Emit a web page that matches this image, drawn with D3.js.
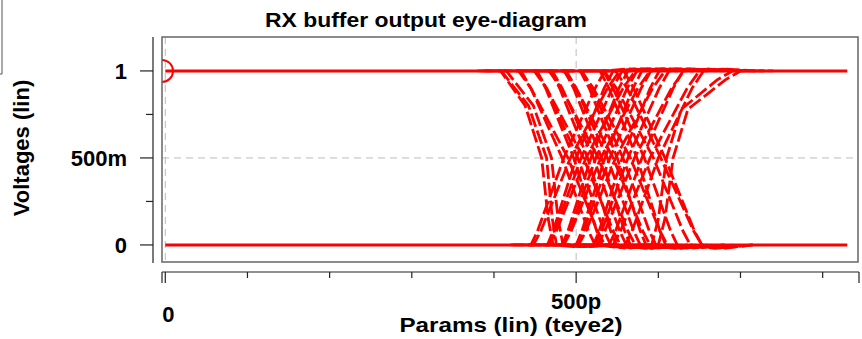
<!DOCTYPE html>
<html><head><meta charset="utf-8">
<script src="https://cdn.jsdelivr.net/npm/d3@7"></script>
<style>body{margin:0;background:#fff}svg{display:block;font-family:"Liberation Sans",Arial,Helvetica,sans-serif;font-weight:bold}</style>
</head><body>
<svg id="c" width="862" height="339"></svg>
<script>
// ---- data ----
const chartTitle = "RX buffer output eye-diagram";
const xTitle = "Params (lin) (teye2)";
const yTitle = "Voltages (lin)";
const yMajorTicks = [0, 0.5, 1];
const yTickLabels = ["0", "500m", "1"];
const yMinorTicks = [0.25, 0.75];
const xMajorTicks = [0, 500];
const xTickLabels = ["0", "500p"];
const xMinorTicks = [100, 200, 300, 400, 600, 700, 800];
const xDomain = [-4, 843];       // ps
const yDomain = [-0.098, 1.195]; // V
const baseHigh = [[0, 1], [830, 1]];
const baseLow = [[0, 0], [830, 0]];
const markerPoint = [-4, 1];

// falling transitions (time ps, volts)
const fallingTraces = [
  [[380,1],[408,1],[438,0.8],[458,0.5],[466,0.15],[472,0],[500,-0.01],[540,0]],
  [[385,1],[409,1],[442,0.8],[464,0.5],[471,0.15],[476,0],[505,-0.01],[545,0]],
  [[390,1],[415,1],[448,0.8],[470,0.5],[478,0.15],[484,0],[512,-0.01],[550,0]],
  [[408,1],[433,1],[445,0.9],[483,0.5],[515,0.08],[523,0],[553,-0.015],[593,0]],
  [[405,1],[430,1],[445,0.9],[490,0.5],[526,0.08],[535,0],[565,-0.015],[605,0]],
  [[427,1],[452,1],[463,0.9],[497,0.5],[525,0.08],[532,0],[562,-0.02],[602,0]],
  [[427,1],[452,1],[464,0.9],[502,0.5],[534,0.08],[542,0],[572,-0.015],[612,0]],
  [[424,1],[449,1],[464,0.9],[509,0.5],[545,0.08],[554,0],[584,-0.02],[624,0]],
  [[444,1],[469,1],[480,0.9],[514,0.5],[542,0.08],[549,0],[579,-0.015],[619,0]],
  [[446,1],[471,1],[483,0.9],[521,0.5],[553,0.08],[561,0],[591,-0.02],[631,0]],
  [[442,1],[467,1],[482,0.9],[527,0.5],[563,0.08],[572,0],[602,-0.015],[642,0]],
  [[461,1],[486,1],[497,0.9],[531,0.5],[559,0.08],[566,0],[596,-0.02],[636,0]],
  [[463,1],[488,1],[500,0.9],[538,0.5],[570,0.08],[578,0],[608,-0.015],[648,0]],
  [[460,1],[485,1],[500,0.9],[545,0.5],[581,0.08],[590,0],[620,-0.02],[660,0]],
  [[480,1],[505,1],[516,0.9],[550,0.5],[578,0.08],[585,0],[615,-0.015],[655,0]],
  [[482,1],[507,1],[519,0.9],[557,0.5],[589,0.08],[597,0],[627,-0.02],[667,0]],
  [[481,1],[506,1],[521,0.9],[566,0.5],[602,0.08],[611,0],[641,-0.015],[681,0]],
  [[504,1],[529,1],[540,0.9],[574,0.5],[602,0.08],[609,0],[639,-0.02],[679,0]],
  [[508,1],[533,1],[545,0.9],[583,0.5],[615,0.08],[623,0],[653,-0.015],[693,0]],
  [[509,1],[534,1],[549,0.9],[594,0.5],[630,0.08],[639,0],[669,-0.02],[705,0]],
  [[523,1],[548,1],[562,0.9],[603,0.5],[643,0.08],[653,0],[680,-0.015],[715,0]],
  [[533,1],[558,1],[570,0.9],[608,0.5],[644,0.08],[653,0],[680,-0.02],[715,0]]
];
// rising transitions
const risingTraces = [
  [[420,0],[445,0],[453,0.08],[485,0.5],[523,0.9],[535,1],[565,1.012],[605,1]],
  [[423,0],[448,0],[457,0.08],[493,0.5],[538,0.9],[553,1],[583,1.012],[623,1]],
  [[440,0],[465,0],[472,0.08],[500,0.5],[534,0.9],[545,1],[575,1.012],[615,1]],
  [[441,0],[466,0],[474,0.08],[506,0.5],[544,0.9],[556,1],[586,1.012],[626,1]],
  [[442,0],[467,0],[476,0.08],[512,0.5],[557,0.9],[572,1],[602,1.012],[642,1]],
  [[458,0],[483,0],[490,0.08],[518,0.5],[552,0.9],[563,1],[593,1.012],[633,1]],
  [[459,0],[484,0],[492,0.08],[524,0.5],[562,0.9],[574,1],[604,1.012],[644,1]],
  [[460,0],[485,0],[494,0.08],[530,0.5],[575,0.9],[590,1],[620,1.012],[660,1]],
  [[475,0],[500,0],[507,0.08],[535,0.5],[569,0.9],[580,1],[610,1.012],[650,1]],
  [[476,0],[501,0],[509,0.08],[541,0.5],[579,0.9],[591,1],[621,1.012],[661,1]],
  [[478,0],[503,0],[512,0.08],[548,0.5],[593,0.9],[608,1],[638,1.012],[678,1]],
  [[496,0],[521,0],[528,0.08],[556,0.5],[590,0.9],[601,1],[631,1.012],[671,1]],
  [[498,0],[523,0],[531,0.08],[563,0.5],[601,0.9],[613,1],[643,1.01],[683,1]],
  [[501,0],[526,0],[535,0.08],[571,0.5],[616,0.9],[631,1],[661,1.01],[700,1]],
  [[515,0],[540,0],[548,0.08],[580,0.5],[618,0.9],[630,1],[660,1.01],[700,1]],
  [[520,0],[545,0],[554,0.08],[590,0.5],[635,0.9],[650,1],[678,1.01],[712,1]],
  [[535,0],[560,0],[568,0.08],[600,0.5],[641,0.9],[655,1],[683,1.01],[718,1]],
  [[565,0],[592,0],[600,0.15],[610,0.5],[628,0.78],[672,0.95],[690,1],[730,1]],
  [[575,0],[600,0],[608,0.15],[618,0.5],[636,0.78],[682,0.95],[700,1],[740,1]]
];

// ---- chart ----
const svg = d3.select("#c");
const plot = {left: 162, top: 37, right: 858, bottom: 262};
const x = d3.scaleLinear().domain(xDomain).range([plot.left, plot.right]);
const y = d3.scaleLinear().domain(yDomain).range([plot.bottom, plot.top]);

// partial legend box at top-left
svg.append("path").attr("d", "M2,0V74H0").attr("fill", "none").attr("stroke", "#555").attr("stroke-width", 1);

svg.append("defs").append("clipPath").attr("id", "clip")
  .append("rect").attr("x", plot.left).attr("y", plot.top)
  .attr("width", plot.right - plot.left).attr("height", plot.bottom - plot.top);

// grid
const grid = svg.append("g").attr("stroke", "#bbb").attr("stroke-width", 1).attr("stroke-dasharray", "7,5");
xMajorTicks.forEach(t => grid.append("line").attr("x1", x(t)).attr("x2", x(t)).attr("y1", plot.top).attr("y2", plot.bottom));
grid.append("line").attr("x1", plot.left).attr("x2", plot.right).attr("y1", y(0.5)).attr("y2", y(0.5));

// traces
const line = d3.line().x(d => x(d[0])).y(d => y(d[1]));
const g = svg.append("g").attr("clip-path", "url(#clip)");
g.selectAll("path.base").data([baseHigh, baseLow]).join("path").attr("class", "base")
  .attr("d", line).attr("fill", "none").attr("stroke", "#ff0000").attr("stroke-width", 3);
g.selectAll("path.fall").data(fallingTraces).join("path").attr("class", "fall")
  .attr("d", line).attr("fill", "none").attr("stroke", "#ff0000").attr("stroke-width", 2.8)
  .attr("stroke-dasharray", "14,4").attr("stroke-linejoin", "round");
g.selectAll("path.rise").data(risingTraces).join("path").attr("class", "rise")
  .attr("d", line).attr("fill", "none").attr("stroke", "#ff0000").attr("stroke-width", 2.8)
  .attr("stroke-dasharray", "14,4").attr("stroke-linejoin", "round");
g.append("circle").attr("cx", x(markerPoint[0])).attr("cy", y(markerPoint[1])).attr("r", 11)
  .attr("fill", "none").attr("stroke", "#ff0000").attr("stroke-width", 2);

// frame
svg.append("rect").attr("x", plot.left).attr("y", plot.top)
  .attr("width", plot.right - plot.left).attr("height", plot.bottom - plot.top)
  .attr("fill", "none").attr("stroke", "#666").attr("stroke-width", 1.5);

// y axis
const ya = svg.append("g").attr("stroke", "#222").attr("stroke-width", 1.2);
ya.append("line").attr("x1", 153).attr("x2", 153).attr("y1", plot.top).attr("y2", plot.bottom + 1);
yMajorTicks.forEach(v => ya.append("line").attr("x1", 140).attr("x2", 153).attr("y1", y(v)).attr("y2", y(v)));
yMinorTicks.forEach(v => ya.append("line").attr("x1", 146).attr("x2", 153).attr("y1", y(v)).attr("y2", y(v)));
svg.append("g").selectAll("text").data(yMajorTicks).join("text")
  .attr("x", 127).attr("y", d => y(d)).attr("dy", "0.36em")
  .attr("text-anchor", "end").attr("font-size", 22).attr("fill", "#000")
  .text((d, i) => yTickLabels[i]);

// x axis
const xa = svg.append("g").attr("stroke", "#222").attr("stroke-width", 1.2);
const axY = 272;
xa.append("line").attr("x1", plot.left).attr("x2", plot.right + 1).attr("y1", axY).attr("y2", axY);
[plot.left, plot.right + 1].forEach(px => xa.append("line").attr("x1", px).attr("x2", px).attr("y1", axY).attr("y2", axY + 11));
xMajorTicks.forEach(t => xa.append("line").attr("x1", x(t)).attr("x2", x(t)).attr("y1", axY).attr("y2", axY + 11));
xMinorTicks.forEach(t => xa.append("line").attr("x1", x(t)).attr("x2", x(t)).attr("y1", axY).attr("y2", axY + 6));
svg.append("g").selectAll("text").data(xMajorTicks).join("text")
  .attr("x", d => x(d) + (d === 0 ? 3 : 0)).attr("y", d => d === 0 ? 321.5 : 309)
  .attr("text-anchor", "middle").attr("font-size", 22).attr("fill", "#000")
  .text((d, i) => xTickLabels[i]);

// titles
svg.append("text").attr("x", 426).attr("y", 27).attr("text-anchor", "middle")
  .attr("font-size", 20).attr("textLength", 322).attr("lengthAdjust", "spacingAndGlyphs").text(chartTitle);
svg.append("text").attr("x", 511).attr("y", 332).attr("text-anchor", "middle")
  .attr("font-size", 21).attr("textLength", 223).attr("lengthAdjust", "spacingAndGlyphs").text(xTitle);
svg.append("text").attr("transform", "translate(29,148) rotate(-90)").attr("text-anchor", "middle")
  .attr("font-size", 22).text(yTitle);
</script>
</body></html>
